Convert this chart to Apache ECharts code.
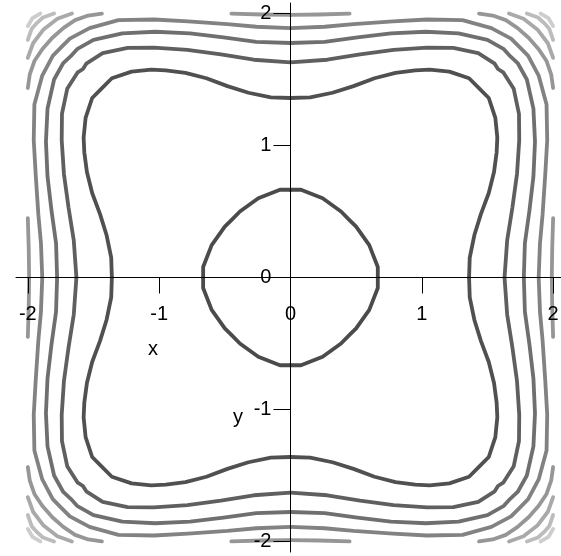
<!DOCTYPE html>
<html>
<head>
<meta charset="utf-8">
<script src="https://cdn.jsdelivr.net/npm/echarts@6/dist/echarts.min.js"></script>
<style>
  html, body { margin: 0; padding: 0; background: #ffffff; }
  #chart { width: 561px; height: 556px; }
</style>
</head>
<body>
<div id="chart"></div>
<script>
// Tick values shared by both axes
const tickValues = [-2, -1, 0, 1, 2];

// Level curves in the first quadrant (x >= 0, y >= 0), each traced from the
// x-axis towards the y-axis. The field is symmetric about both axes.
const levelA = [[0.665, 0], [0.665, 0.08], [0.60, 0.245], [0.50, 0.385], [0.442, 0.442],
  [0.385, 0.50], [0.245, 0.60], [0.08, 0.665], [0, 0.665]];
const levelB = [[1.36, 0], [1.365, 0.15], [1.40, 0.32], [1.45, 0.48], [1.51, 0.64], [1.55, 0.80],
  [1.57, 0.95], [1.575, 1.06], [1.56, 1.21], [1.51, 1.36], [1.435, 1.435],
  [1.36, 1.51], [1.21, 1.56], [1.06, 1.575], [0.95, 1.57], [0.80, 1.55], [0.64, 1.51],
  [0.48, 1.45], [0.32, 1.40], [0.15, 1.365], [0, 1.36]];
const levelC = [[1.63, 0], [1.65, 0.28], [1.69, 0.53], [1.725, 0.785], [1.742, 1.04], [1.74, 1.24],
  [1.70, 1.43], [1.62, 1.555], [1.58, 1.58],
  [1.555, 1.62], [1.43, 1.70], [1.24, 1.74], [1.04, 1.742], [0.785, 1.725], [0.53, 1.69],
  [0.28, 1.65], [0, 1.63]];
const levelD = [[1.777, 0], [1.785, 0.26], [1.82, 0.51], [1.85, 0.765], [1.862, 1.03], [1.85, 1.28],
  [1.80, 1.50], [1.73, 1.625], [1.675, 1.675],
  [1.625, 1.73], [1.50, 1.80], [1.28, 1.85], [1.03, 1.862], [0.765, 1.85], [0.51, 1.82],
  [0.26, 1.785], [0, 1.777]];
const levelE = [[1.89, 0], [1.90, 0.26], [1.92, 0.48], [1.94, 0.78], [1.955, 1.04], [1.95, 1.31],
  [1.89, 1.53], [1.81, 1.68], [1.745, 1.745],
  [1.68, 1.81], [1.53, 1.89], [1.31, 1.95], [1.04, 1.955], [0.78, 1.94], [0.48, 1.92],
  [0.26, 1.90], [0, 1.89]];

// Outer levels are cut by the plotting window [-2, 2] x [-2, 2]
const levelFSide = [[1.99, 0], [1.993, 0.22], [2.0, 0.45]];
const levelFTop = [[0.45, 2.0], [0.22, 1.993], [0, 1.99]];
const levelFCorner = [[2.0, 1.436], [1.985, 1.54], [1.95, 1.64], [1.89, 1.73], [1.815, 1.815],
  [1.73, 1.89], [1.64, 1.95], [1.54, 1.985], [1.436, 2.0]];
const levelGCorner = [[2.0, 1.664], [1.96, 1.775], [1.88, 1.88], [1.775, 1.96], [1.664, 2.0]];
const levelHCorner = [[2.0, 1.80], [1.97, 1.885], [1.93, 1.93], [1.885, 1.97], [1.80, 2.0]];
const levelICorner = [[2.0, 1.905], [1.965, 1.965], [1.905, 2.0]];

const levels = [
  { pieces: [levelA], color: '#4b4b4b' },
  { pieces: [levelB], color: '#505050' },
  { pieces: [levelC], color: '#5f5f5f' },
  { pieces: [levelD], color: '#6f6f6f' },
  { pieces: [levelE], color: '#828282' },
  { pieces: [levelFSide, levelFTop, levelFCorner], color: '#969696' },
  { pieces: [levelGCorner], color: '#a9a9a9' },
  { pieces: [levelHCorner], color: '#bcbcbc' },
  { pieces: [levelICorner], color: '#cdcdcd' }
];

// Reflect a first-quadrant piece into all four quadrants
function reflections(piece) {
  return [
    piece,
    piece.map(([x, y]) => [-x, y]),
    piece.map(([x, y]) => [-x, -y]),
    piece.map(([x, y]) => [x, -y])
  ];
}

const series = [];
levels.forEach(level => {
  level.pieces.forEach(piece => {
    reflections(piece).forEach(part => {
      series.push({
        type: 'line',
        data: part,
        showSymbol: false,
        symbol: 'none',
        smooth: false,
        silent: true,
        animation: false,
        z: 2,
        lineStyle: { color: level.color, width: 3.8, cap: 'round', join: 'round' }
      });
    });
  });
});

const labelFont = { fontFamily: 'Liberation Sans, Arial, sans-serif', fontSize: 20, color: '#000' };

// Plot window and axis ranges; the axes cross at the origin
const gridLeft = 16, gridTop = 3, gridWidth = 545, gridHeight = 549;
const xMin = -2.09, xMax = 2.06, yMin = -2.08, yMax = 2.08;
// distance from the grid edges to the origin, used to pull the axes onto the origin
const xAxisShift = gridHeight * (0 - yMin) / (yMax - yMin);
const yAxisShift = gridWidth * (0 - xMin) / (xMax - xMin);

const chart = echarts.init(document.getElementById('chart'), null, { renderer: 'canvas' });
chart.setOption({
  backgroundColor: '#ffffff',
  animation: false,
  grid: { left: gridLeft, top: gridTop, width: gridWidth, height: gridHeight, containLabel: false, outerBoundsMode: 'none' },
  xAxis: {
    type: 'value',
    min: xMin,
    max: xMax,
    position: 'bottom',
    offset: -xAxisShift,
    z: 10,
    axisLine: { onZero: false, lineStyle: { color: '#000', width: 1 } },
    axisTick: { show: true, length: 16, customValues: tickValues, lineStyle: { color: '#000', width: 1 } },
    axisLabel: Object.assign({ customValues: tickValues, margin: 27 }, labelFont),
    splitLine: { show: false }
  },
  yAxis: {
    type: 'value',
    min: yMin,
    max: yMax,
    position: 'left',
    offset: -yAxisShift,
    z: 10,
    axisLine: { onZero: false, lineStyle: { color: '#000', width: 1 } },
    axisTick: { show: true, length: 17, customValues: tickValues, lineStyle: { color: '#000', width: 1 } },
    axisLabel: Object.assign({ customValues: tickValues, margin: 19 }, labelFont),
    splitLine: { show: false }
  },
  graphic: [
    { type: 'text', x: 153, y: 349, z: 10, style: { text: 'x', font: '20px Liberation Sans, Arial, sans-serif', fill: '#000', align: 'center', verticalAlign: 'middle' } },
    { type: 'text', x: 238, y: 417, z: 10, style: { text: 'y', font: '20px Liberation Sans, Arial, sans-serif', fill: '#000', align: 'center', verticalAlign: 'middle' } }
  ],
  series: series
});
</script>
</body>
</html>
